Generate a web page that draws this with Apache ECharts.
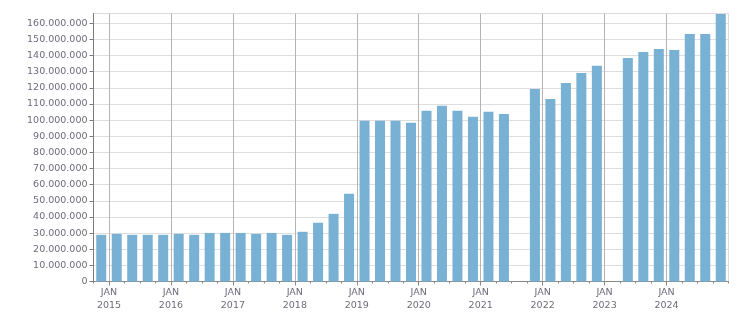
<!DOCTYPE html>
<html>
<head>
<meta charset="utf-8">
<script src="https://cdn.jsdelivr.net/npm/echarts@6/dist/echarts.min.js"></script>
<style>html,body{margin:0;padding:0;background:#fff}#c{width:751px;height:313px}</style>
</head>
<body>
<div id="c"></div>
<script>
// Quarters (bands); 2014-Q4 .. 2024-Q4
const quarters = [
  '2014-Q4',
  '2015-Q1','2015-Q2','2015-Q3','2015-Q4',
  '2016-Q1','2016-Q2','2016-Q3','2016-Q4',
  '2017-Q1','2017-Q2','2017-Q3','2017-Q4',
  '2018-Q1','2018-Q2','2018-Q3','2018-Q4',
  '2019-Q1','2019-Q2','2019-Q3','2019-Q4',
  '2020-Q1','2020-Q2','2020-Q3','2020-Q4',
  '2021-Q1','2021-Q2','2021-Q3','2021-Q4',
  '2022-Q1','2022-Q2','2022-Q3','2022-Q4',
  '2023-Q1','2023-Q2','2023-Q3','2023-Q4',
  '2024-Q1','2024-Q2','2024-Q3','2024-Q4'
];
// Values
const values = [
  28900000,
  29500000, 28900000, 28900000, 28900000,
  29500000, 28900000, 30100000, 30100000,
  30100000, 29500000, 30100000, 28900000,
  30800000, 36400000, 41900000, 54300000,
  99500000, 99500000, 99500000, 98300000,
  105700000, 108800000, 105700000, 102000000,
  105100000, 103800000, null, 119300000,
  113100000, 123000000, 129200000, 133600000,
  null, 138500000, 142200000, 144000000,
  143400000, 153300000, 153300000, 165700000
];
// Band boundaries (start of each quarter, plus end)
const boundaries = [
  '2014-10',
  '2015-01','2015-04','2015-07','2015-10',
  '2016-01','2016-04','2016-07','2016-10',
  '2017-01','2017-04','2017-07','2017-10',
  '2018-01','2018-04','2018-07','2018-10',
  '2019-01','2019-04','2019-07','2019-10',
  '2020-01','2020-04','2020-07','2020-10',
  '2021-01','2021-04','2021-07','2021-10',
  '2022-01','2022-04','2022-07','2022-10',
  '2023-01','2023-04','2023-07','2023-10',
  '2024-01','2024-04','2024-07','2024-10',
  '2025-01'
];
const yTicks = [0,10000000,20000000,30000000,40000000,50000000,60000000,70000000,80000000,90000000,100000000,110000000,120000000,130000000,140000000,150000000,160000000];
const yMax = 166000000;

const FONT = '"DejaVu Sans", sans-serif';
const TXT = '#6c6c7c';
const last = boundaries.length - 1;
const isJan = (i, v) => i !== last && String(v).slice(5) === '01';
function fmtNum(v){ return String(v).replace(/\B(?=(\d{3})+(?!\d))/g, '.'); }

const chart = echarts.init(document.getElementById('c'), null, {renderer:'canvas'});
chart.setOption({
  animation: false,
  grid: {left: 93.5, right: 22.5, top: 13.5, bottom: 31.5, show: true, borderColor: '#dcdcdc', borderWidth: 1, backgroundColor: 'transparent'},
  xAxis: [
    {
      type: 'category', data: quarters, boundaryGap: true,
      axisLine: {show: true, lineStyle: {color: '#8a8a8a', width: 1}},
      axisTick: {show: true, interval: 0, length: 2, lineStyle: {color: '#8a8a8a'}},
      axisLabel: {show: false},
      splitLine: {show: false}
    },
    {
      type: 'category', data: boundaries, boundaryGap: false, position: 'bottom',
      axisLine: {show: false},
      axisTick: {show: true, interval: isJan, length: 4, lineStyle: {color: '#8a8a8a'}},
      axisLabel: {show: true, interval: isJan, margin: 5, fontFamily: FONT, fontSize: 9.5, lineHeight: 12.5, color: TXT,
        formatter: v => 'JAN\n' + v.slice(0,4)},
      splitLine: {show: true, interval: isJan, lineStyle: {color: '#b4b4b4', width: 1}}
    }
  ],
  yAxis: {
    type: 'value', min: 0, max: yMax,
    axisLine: {show: true, lineStyle: {color: '#7a7a7a', width: 1}},
    axisTick: {show: true, length: 4, customValues: yTicks, lineStyle: {color: '#7a7a7a'}},
    axisLabel: {customValues: yTicks, margin: 6, fontFamily: FONT, fontSize: 9.5, color: TXT, formatter: fmtNum},
    splitLine: {show: true, lineStyle: {color: '#dedede', width: 1}}
  },
  series: [{
    type: 'bar', xAxisIndex: 0, data: values, barWidth: 10,
    itemStyle: {color: '#78b1d3'}
  }]
});
</script>
</body>
</html>
